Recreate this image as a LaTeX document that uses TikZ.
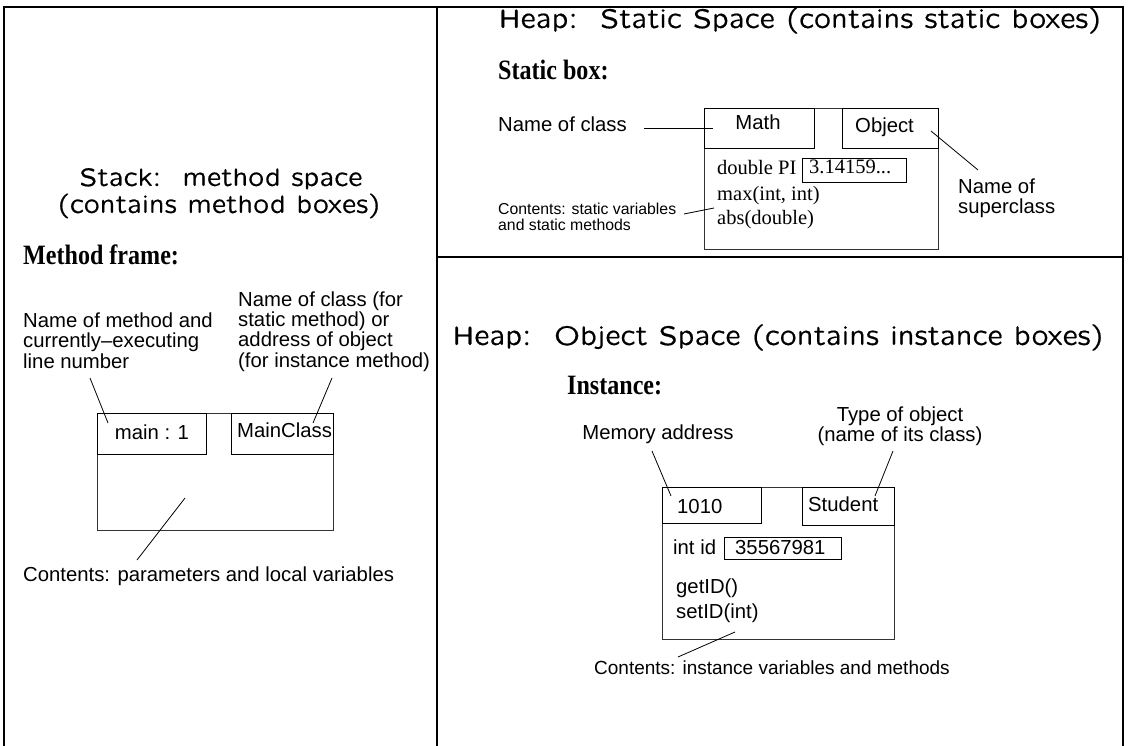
\documentclass[tikz,border=0pt]{standalone}
\usepackage{fontspec}
\setmainfont{Liberation Serif}
\setsansfont{Liberation Sans}
\newfontfamily\hdfont[FakeStretch=0.86]{Liberation Serif}
\newfontfamily\ttlfont[Extension=.otf, FakeBold=0.6]{lmsansquot8-regular}
\tikzset{
  frame/.style={line width=2.4pt},
  obox/.style={draw=black!80, line width=1pt, inner sep=0, anchor=north west},
  ibox/.style={draw=black, line width=1.3pt, inner sep=0, anchor=north west},
  vbox/.style={draw=black, line width=1pt, inner sep=0, anchor=north west},
  leader/.style={line width=0.8pt},
  ttl/.style={inner sep=0, anchor=base, font=\ttlfont\fontsize{25.3}{27}\selectfont},
  httl/.style={inner sep=0, anchor=base, font=\ttlfont\fontsize{27}{29}\selectfont},
  hd/.style={inner sep=0, anchor=base west, font=\hdfont\bfseries\fontsize{28}{30}\selectfont},
  lbl/.style={inner sep=0, anchor=base west, align=left, font=\sffamily\fontsize{20.3}{20.3}\selectfont},
  lblc/.style={inner sep=0, anchor=base, align=center, font=\sffamily\fontsize{20.3}{20}\selectfont},
  small/.style={inner sep=0, anchor=base west, align=left, font=\sffamily\fontsize{15.8}{16.5}\selectfont},
  tms/.style={inner sep=0, anchor=base west, font=\rmfamily\fontsize{20.5}{20.5}\selectfont},
}
\begin{document}
\begin{tikzpicture}[x=1pt,y=-1pt]
\useasboundingbox (0,0) rectangle (1128,746);
% frame
\draw[frame] (4,747) -- (4,7) -- (1123,7) -- (1123,747);
\draw[frame] (437,7) -- (437,747);
\draw[frame] (437,257) -- (1123,257);

% ---------- Stack ----------
\node[ttl] (st1) at (221,186) {Stack:\ \ method space};
\node[ttl] (st2) at (219,213) {(contains method boxes)};
\node[hd] (mfh) at (23,265) {Method frame:};
\node[lbl] (nm) at (23,368) {Name of method and\\currently–executing\\line number};
\node[lbl] (nc) at (238,367) {Name of class (for\\static method) or\\address of object\\(for instance method)};
\node[obox, minimum width=236, minimum height=117] (mfo) at (97,413) {};
\node[ibox, minimum width=109, minimum height=41] (mfm) at (97,413) {};
\node[ibox, minimum width=102, minimum height=41] (mfc) at (231,413) {};
\node[lbl, anchor=base] (mmain) at (152,439) {main : 1};
\node[lbl] (mcls) at (237,437) {MainClass};
\node[lbl] (mcont) at (23,581) {Contents: parameters and local variables};
\coordinate (l1a) at (90,378); \coordinate (l1b) at (108,423);
\coordinate (l2a) at (332,378); \coordinate (l2b) at (313,423);
\coordinate (l3a) at (185,498); \coordinate (l3b) at (137,560);
\draw[leader] (l1a) -- (l1b);
\draw[leader] (l2a) -- (l2b);
\draw[leader] (l3a) -- (l3b);

% ---------- Static space ----------
\node[httl] (ht1) at (800,28) {Heap:\ \ Static Space (contains static boxes)};
\node[hd] (sbh) at (498,80) {Static box:};
\node[lbl] (ncl) at (498,132) {Name of class};
\node[obox, minimum width=234, minimum height=141] (sbo) at (704,108) {};
\node[ibox, minimum width=110, minimum height=40] (sbm) at (704,108) {};
\node[ibox, minimum width=96, minimum height=40] (sbs) at (842,108) {};
\node[lbl, anchor=base] (math) at (758,130) {Math};
\node[lbl] (obj) at (855,133) {Object};
\node[tms] (dpi) at (717,175) {double PI};
\node[vbox, minimum width=104, minimum height=24] (pib) at (802,158) {};
\node[tms] (piv) at (809,174) {3.14159...};
\node[tms] (mx) at (717,201) {max(int, int)};
\node[tms] (ab) at (717,225) {abs(double)};
\node[small] (scont) at (498,231) {Contents: static variables\\and static methods};
\node[lbl] (sup) at (958,214) {Name of\\superclass};
\coordinate (s1a) at (644,128); \coordinate (s1b) at (713,128);
\coordinate (s2a) at (684,214); \coordinate (s2b) at (714,208);
\coordinate (s3a) at (931,131); \coordinate (s3b) at (978,170);
\draw[leader] (s1a) -- (s1b);
\draw[leader] (s2a) -- (s2b);
\draw[leader] (s3a) -- (s3b);

% ---------- Object space ----------
\node[httl] (ho1) at (778,345) {Heap:\ \ Object Space (contains instance boxes)};
\node[hd] (insh) at (567,394) {Instance:};
\node[lblc] (madr) at (658,439) {Memory address};
\node[lblc] (tobj) at (900,441) {Type of object\\(name of its class)};
\node[obox, minimum width=232, minimum height=152] (ino) at (662,487) {};
\node[ibox, minimum width=99, minimum height=36] (ina) at (662,487) {};
\node[ibox, minimum width=92, minimum height=38] (inc) at (802,487) {};
\node[lbl] (addr) at (677,513) {1010};
\node[lbl] (stud) at (808,511) {Student};
\node[lbl] (iid) at (673,554) {int id};
\node[vbox, minimum width=117, minimum height=22] (idb) at (724,537) {};
\node[lbl] (idv) at (735,554) {35567981};
\node[lbl] (gid) at (676,593) {getID()};
\node[lbl] (sid) at (676,618) {setID(int)};
\node[lbl, font=\sffamily\fontsize{19}{19}\selectfont] (icont) at (594,674) {Contents: instance variables and methods};
\coordinate (o1a) at (652,451); \coordinate (o1b) at (671,496);
\coordinate (o2a) at (893,451); \coordinate (o2b) at (875,496);
\coordinate (o3a) at (735,632); \coordinate (o3b) at (678,657);
\draw[leader] (o1a) -- (o1b);
\draw[leader] (o2a) -- (o2b);
\draw[leader] (o3a) -- (o3b);
\end{tikzpicture}
\end{document}
